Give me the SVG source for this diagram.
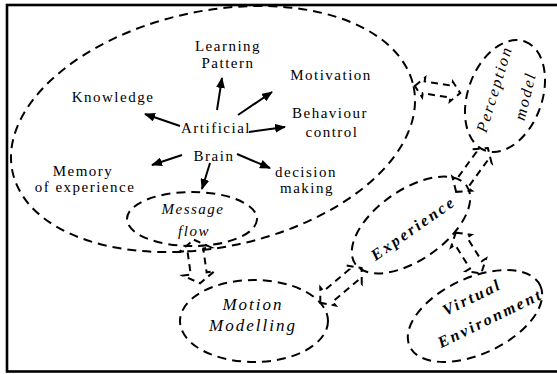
<svg xmlns="http://www.w3.org/2000/svg" width="557" height="374" viewBox="0 0 557 374">
  <style>
    .frame { fill: none; stroke: #000; stroke-width: 2.6; }
    .dash { fill: none; stroke: #000; stroke-width: 2; stroke-dasharray: 9 6; }
    .blk { fill: none; stroke: #000; stroke-width: 2; stroke-dasharray: 7 5; stroke-linejoin: miter; }
    .arr { fill: none; stroke: #000; stroke-width: 2; }
    .t { font-family: "Liberation Serif", "Times New Roman", serif; font-size: 15px; letter-spacing: 1.5px; fill: #000; text-anchor: middle; }
    .it { font-style: italic; }
    .big { font-size: 17px; letter-spacing: 2px; }
    .bi { font-style: italic; font-weight: bold; font-size: 16px; letter-spacing: 2.5px; }
    .pm { font-style: italic; font-size: 16px; letter-spacing: 2px; }
  </style>
  <defs>
    <marker id="head" markerUnits="userSpaceOnUse" markerWidth="11" markerHeight="9" refX="10" refY="4.5" orient="auto">
      <path d="M0,0 L11,4.5 L0,9 Z" fill="#000"/>
    </marker>
  </defs>

  <!-- outer frame (right edge runs off the canvas) -->
  <rect class="frame" x="7" y="5" width="560" height="366.5"/>

  <!-- Artificial Brain region -->
  <g id="brain">
    <ellipse class="dash" cx="213" cy="129" rx="205" ry="118" transform="rotate(-12 213 129)"/>
    <text class="t" x="216" y="133">Artificial</text>
    <text class="t" x="214" y="161">Brain</text>
  </g>
  <g id="learning">
    <text class="t" x="228" y="51">Learning</text>
    <text class="t" x="228" y="68">Pattern</text>
  </g>
  <g id="knowledge">
    <text class="t" x="113" y="102">Knowledge</text>
  </g>
  <g id="motivation">
    <text class="t" x="331" y="80">Motivation</text>
  </g>
  <g id="behaviour">
    <text class="t" x="330" y="118">Behaviour</text>
    <text class="t" x="332" y="137">control</text>
  </g>
  <g id="memory">
    <text class="t" x="83" y="176">Memory</text>
    <text class="t" x="85" y="192">of experience</text>
  </g>
  <g id="decision">
    <text class="t" x="306" y="177">decision</text>
    <text class="t" x="307" y="193">making</text>
  </g>

  <g id="message-flow">
    <ellipse class="dash" cx="192" cy="219" rx="65" ry="27"/>
    <text class="t it" x="193" y="214">Message</text>
    <text class="t it" x="194" y="236">flow</text>
  </g>

  <g id="motion-modelling">
    <ellipse class="dash" cx="254" cy="321" rx="74" ry="41"/>
    <text class="t it big" x="253" y="310">Motion</text>
    <text class="t it big" x="253" y="331">Modelling</text>
  </g>

  <g id="experience">
    <ellipse class="dash" cx="411" cy="225" rx="68" ry="35" transform="rotate(-35 411 225)"/>
    <text class="t bi" transform="translate(413 228) rotate(-35)" dy="0.35em">Experience</text>
  </g>

  <g id="perception-model">
    <ellipse class="dash" cx="505" cy="96" rx="58" ry="37" transform="rotate(-70 505 96)"/>
    <text class="t pm" transform="translate(494 89) rotate(-73)" dy="0.35em">Perception</text>
    <text class="t pm" transform="translate(525 96) rotate(-76)" dy="0.35em">model</text>
  </g>

  <g id="virtual-environment">
    <ellipse class="dash" cx="475" cy="316" rx="72" ry="38" transform="rotate(-25 475 316)"/>
    <text class="t bi" transform="translate(472 297) rotate(-26)" dy="0.35em">Virtual</text>
    <text class="t bi" transform="translate(490 318) rotate(-26)" dy="0.35em">Environment</text>
  </g>

  <!-- connectors -->
  <g id="connectors">
    <!-- brain outputs -->
    <line class="arr" x1="217" y1="110" x2="222" y2="78" marker-end="url(#head)"/>
    <line class="arr" x1="238" y1="115" x2="272" y2="92" marker-end="url(#head)"/>
    <line class="arr" x1="249" y1="132" x2="285" y2="127" marker-end="url(#head)"/>
    <line class="arr" x1="180" y1="126" x2="145" y2="114" marker-end="url(#head)"/>
    <line class="arr" x1="182" y1="155" x2="152" y2="165" marker-end="url(#head)"/>
    <line class="arr" x1="237" y1="154" x2="270" y2="168" marker-end="url(#head)"/>
    <line class="arr" x1="210" y1="163" x2="202" y2="189" marker-end="url(#head)"/>

    <!-- dashed two-way block arrows -->
    <polygon class="blk" transform="translate(437.5 89.5) rotate(9)"
      points="-23,0 -14,-10 -14,-6 14,-6 14,-10 23,0 14,10 14,6 -14,6 -14,10"/>
    <polygon class="blk" transform="translate(472 170) rotate(-54)"
      points="-27,0 -17,-12 -17,-7 17,-7 17,-12 27,0 17,12 17,7 -17,7 -17,12"/>
    <polygon class="blk" transform="translate(197 261.5) rotate(82)"
      points="-22,0 -12,-16 -12,-8 12,-8 12,-16 22,0 12,16 12,8 -12,8 -12,16"/>
    <polygon class="blk" transform="translate(341 285.5) rotate(-40)"
      points="-27,0 -17,-12 -17,-7 17,-7 17,-12 27,0 17,12 17,7 -17,7 -17,12"/>
    <polygon class="blk" transform="translate(468.5 253) rotate(58)"
      points="-24,0 -14,-12 -14,-7 14,-7 14,-12 24,0 14,12 14,7 -14,7 -14,12"/>
  </g>
</svg>
